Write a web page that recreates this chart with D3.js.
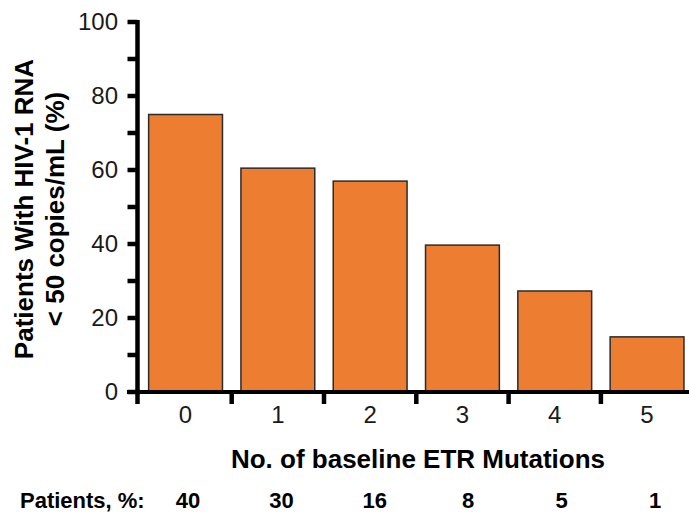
<!DOCTYPE html>
<html><head><meta charset="utf-8">
<script src="https://cdn.jsdelivr.net/npm/d3@7"></script>
<style>
html,body{margin:0;padding:0;background:#fff;}
svg{display:block;}
</style></head>
<body>
<svg id="chart" width="689" height="514"></svg>
<script>
const categories = ["0","1","2","3","4","5"];
const values = [75.0, 60.5, 57.0, 39.7, 27.3, 14.9];
const patientsPct = ["40","30","16","8","5","1"];
const yTicks = [0,10,20,30,40,50,60,70,80,90,100];
const yTickLabels = [0,20,40,60,80,100];
const xTitle = "No. of baseline ETR Mutations";
const yTitleLines = ["Patients With HIV-1 RNA", "< 50 copies/mL (%)"];
const rowLabel = "Patients, %:";

const svg = d3.select("#chart");
const font = "Liberation Sans, Arial, Helvetica, sans-serif";
const axisX = 137.5, axisY = 392;

const x = d3.scaleBand().domain(categories).range([139.4, 693.2]).paddingInner(0.2).paddingOuter(0.1);
const y = d3.scaleLinear().domain([0,100]).range([392,22]);

// bars
svg.append("g").selectAll("rect").data(values).join("rect")
  .attr("x",(d,i)=>x(categories[i]))
  .attr("y",d=>y(d))
  .attr("width",x.bandwidth())
  .attr("height",d=>y(0)-y(d))
  .attr("fill","#ED7D31")
  .attr("stroke","#2b2b2b")
  .attr("stroke-width",1.5);

// y axis ticks (drawn from the scale)
svg.append("g").selectAll("line").data(yTicks).join("line")
  .attr("x1",axisX-10).attr("x2",axisX).attr("y1",d=>y(d)).attr("y2",d=>y(d))
  .attr("stroke","#000").attr("stroke-width",4.5);
svg.append("g").selectAll("text").data(yTickLabels).join("text")
  .attr("x",118).attr("y",d=>y(d)).attr("dy","0.35em").attr("text-anchor","end")
  .attr("font-family",font).attr("font-size",24).attr("fill","#1a1a1a")
  .text(d=>d);

// x axis: boundary ticks
const step = x.step();
const r0 = x.range()[0];
const bounds = d3.range(1, categories.length).map(i => r0 + i*step);
svg.append("g").selectAll("line").data(bounds).join("line")
  .attr("x1",d=>d).attr("x2",d=>d).attr("y1",axisY).attr("y2",axisY+12)
  .attr("stroke","#000").attr("stroke-width",4.5);
svg.append("g").selectAll("text").data(categories).join("text")
  .attr("x",d=>x(d)+x.bandwidth()/2)
  .attr("y",423)
  .attr("text-anchor","middle")
  .attr("font-family",font).attr("font-size",24).attr("fill","#1a1a1a")
  .text(d=>d);

// axis lines
svg.append("line").attr("x1",127).attr("x2",689).attr("y1",axisY).attr("y2",axisY)
  .attr("stroke","#000").attr("stroke-width",4);
svg.append("line").attr("x1",axisX).attr("x2",axisX).attr("y1",20).attr("y2",404)
  .attr("stroke","#000").attr("stroke-width",4.5);

// x title
svg.append("text").attr("x",418).attr("y",468).attr("text-anchor","middle")
  .attr("font-family",font).attr("font-weight","bold").attr("font-size",26).attr("fill","#000")
  .text(xTitle);

// y title
const yt = svg.append("text").attr("transform","translate(0,209) rotate(-90)")
  .attr("text-anchor","middle").attr("font-family",font).attr("font-weight","bold")
  .attr("font-size",26).attr("fill","#000");
yt.selectAll("tspan").data(yTitleLines).join("tspan")
  .attr("x",0).attr("y",(d,i)=>33+i*31).text(d=>d);

// patients row
const px = d3.scalePoint().domain(categories).range([188, 655]);
svg.append("text").attr("x",20).attr("y",508)
  .attr("font-family",font).attr("font-weight","bold").attr("font-size",22).attr("fill","#000")
  .text(rowLabel);
svg.append("g").selectAll("text").data(patientsPct).join("text")
  .attr("x",(d,i)=>px(categories[i])).attr("y",508).attr("text-anchor","middle")
  .attr("font-family",font).attr("font-weight","bold").attr("font-size",22).attr("fill","#000")
  .text(d=>d);
</script>
</body></html>
